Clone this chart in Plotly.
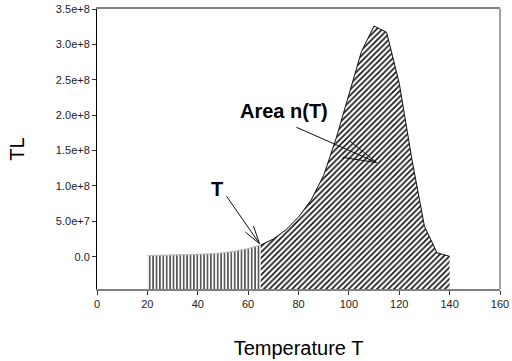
import math
import plotly.graph_objects as go

# ---- data ----
temp_low = [20, 25, 30, 35, 40, 45, 50, 55, 60, 65]
tl_low = [0.15e7, 0.18e7, 0.22e7, 0.28e7, 0.34e7, 0.42e7, 0.55e7, 0.8e7, 1.15e7, 1.65e7]
temp_high = [65, 70, 75, 80, 85, 90, 95, 100, 105, 110, 115, 120, 125, 130, 135, 140]
tl_high = [1.65e7, 2.5e7, 3.8e7, 5.6e7, 8.0e7, 1.15e8, 1.68e8, 2.3e8, 2.9e8, 3.26e8,
           3.17e8, 2.45e8, 1.38e8, 4.3e7, 0.55e7, 0.05e7]

x_ticks = [0, 20, 40, 60, 80, 100, 120, 140, 160]
y_ticks = [0, 5e7, 1e8, 1.5e8, 2e8, 2.5e8, 3e8, 3.5e8]
y_tick_text = ["0.0", "5.0e+7", "1.0e+8", "1.5e+8", "2.0e+8", "2.5e+8", "3.0e+8", "3.5e+8"]
x_range = [0, 160]
y_range = [-4.56e7, 3.5e8]

# label anchor points (data coords) and arrow tips
t_label = (47.6, 9.5e7)
t_tip = (64.5, 1.85e7)
area_label = (74.1, 2.065e8)
area_tip = (111.0, 1.33e8)

FONT = "Liberation Sans, Arial, sans-serif"
ybase = y_range[0]

fig = go.Figure()

# vertical-hatched region (20..65)
fig.add_trace(go.Scatter(
    x=temp_low + [temp_low[-1], temp_low[0]],
    y=tl_low + [ybase, ybase],
    fill="toself", mode="lines", line=dict(width=0),
    fillcolor="white",
    fillpattern=dict(shape="|", size=3.4, solidity=0.35, fgcolor="#111", bgcolor="white"),
    hoverinfo="skip", showlegend=False))
fig.add_trace(go.Scatter(x=temp_low, y=tl_low, mode="lines",
                         line=dict(color="#bbbbbb", width=1.2), showlegend=False))

# diagonal-hatched region (65..140)
fig.add_trace(go.Scatter(
    x=temp_high + [temp_high[-1], temp_high[0]],
    y=tl_high + [ybase, ybase],
    fill="toself", mode="lines", line=dict(width=0),
    fillcolor="white",
    fillpattern=dict(shape="/", size=4, solidity=0.4, fgcolor="#111", bgcolor="white"),
    hoverinfo="skip", showlegend=False))
fig.add_trace(go.Scatter(x=temp_high, y=tl_high, mode="lines",
                         line=dict(color="#111", width=1), showlegend=False))

annotations = []


def arrow(tip, shaft, head_len, half_angle):
    # shaft line
    annotations.append(dict(x=tip[0], y=tip[1], xref="x", yref="y", ax=shaft[0], ay=shaft[1],
                            axref="pixel", ayref="pixel", text="", showarrow=True,
                            arrowhead=0, arrowwidth=1, arrowcolor="#111", standoff=0))
    ang = math.atan2(shaft[1], shaft[0])
    for s in (-1, 1):
        a = ang + s * math.radians(half_angle)
        annotations.append(dict(x=tip[0], y=tip[1], xref="x", yref="y",
                                ax=head_len * math.cos(a), ay=head_len * math.sin(a),
                                axref="pixel", ayref="pixel", text="", showarrow=True,
                                arrowhead=0, arrowwidth=1, arrowcolor="#111", standoff=0))


arrow(t_tip, (-34, -49), 20, 16)
arrow(area_tip, (-81.7, -36), 36, 15)

annotations.append(dict(x=t_label[0], y=t_label[1], xref="x", yref="y", text="<b>T</b>",
                        showarrow=False, font=dict(family=FONT, size=20, color="black")))
annotations.append(dict(x=area_label[0], y=area_label[1], xref="x", yref="y",
                        text="<b>Area n(T)</b>", showarrow=False,
                        font=dict(family=FONT, size=20, color="black")))

# right frame line (gray)
shapes = [dict(type="line", xref="paper", yref="paper", x0=1, x1=1, y0=0, y1=1,
               line=dict(color="#808080", width=1.5))]

fig.update_layout(
    template="none",
    width=512, height=361,
    margin=dict(l=97, r=12, t=9, b=72),
    paper_bgcolor="white", plot_bgcolor="white",
    showlegend=False,
    annotations=annotations, shapes=shapes,
    font=dict(family=FONT, color="#222"),
)
fig.update_xaxes(range=x_range, tickvals=x_ticks, ticks="outside", ticklen=4,
                 tickcolor="#333", showline=True, linecolor="#808080", linewidth=1.5,
                 mirror=True, showgrid=False, zeroline=False, automargin=False,
                 tickfont=dict(family=FONT, size=11, color="#222"),
                 title=dict(text="Temperature T", font=dict(family=FONT, size=20, color="black"),
                            standoff=32))
fig.update_yaxes(range=y_range, tickvals=y_ticks, ticktext=y_tick_text, ticks="outside",
                 ticklen=4, tickcolor="#333", showline=True, linecolor="black", linewidth=1,
                 showgrid=False, zeroline=False, automargin=False,
                 tickfont=dict(family=FONT, size=11, color="#222"),
                 title=dict(text="TL", font=dict(family=FONT, size=20, color="black"),
                            standoff=25))

fig.write_html("out.html")
